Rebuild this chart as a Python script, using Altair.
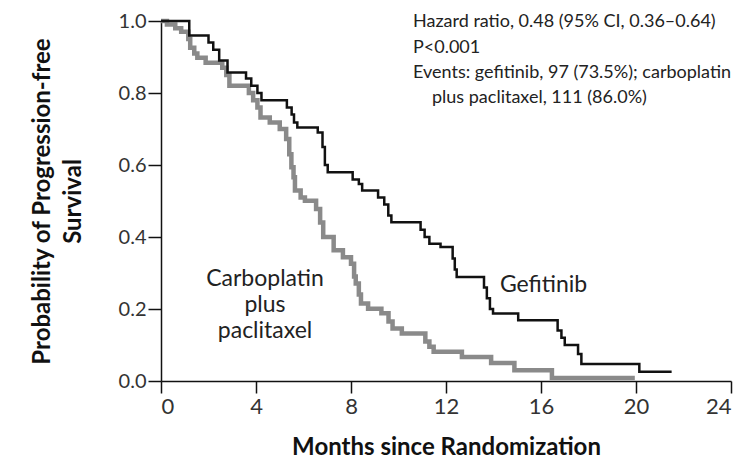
import altair as alt
import pandas as pd

# Gefitinib (black) Kaplan-Meier steps: month, survival probability
gef_months = [0, 1.19, 2.0, 2.2, 2.45, 2.8, 3.58, 3.8, 4.06, 4.23, 5.3, 5.5, 5.6, 5.74,
              6.6, 6.8, 6.9, 7.02, 8.07, 8.33, 8.47, 9.14, 9.4, 9.57, 9.7, 10.93, 11.1,
              11.3, 11.77, 12.28, 12.37, 12.45, 13.6, 13.72, 13.85, 13.98, 15.04, 16.7,
              16.86, 17.0, 17.56, 17.7, 20.14, 21.5]
gef_surv = [1.0, 0.96, 0.94, 0.92, 0.89, 0.857, 0.84, 0.82, 0.80, 0.78, 0.76, 0.74, 0.718,
            0.704, 0.69, 0.65, 0.60, 0.58, 0.56, 0.547, 0.529, 0.51, 0.49, 0.46, 0.441,
            0.42, 0.40, 0.381, 0.372, 0.34, 0.31, 0.289, 0.26, 0.23, 0.20, 0.1875, 0.169,
            0.14, 0.12, 0.10, 0.075, 0.047, 0.026, 0.026]

# Carboplatin plus paclitaxel (gray)
carbo_months = [0, 0.25, 0.6, 0.85, 1.15, 1.23, 1.4, 1.53, 1.88, 2.58, 2.75, 2.88, 3.7, 3.88,
                4.06, 4.19, 4.58, 5.0, 5.27, 5.4, 5.49, 5.58, 5.64, 5.88, 6.06, 6.53, 6.7,
                6.83, 7.27, 7.66, 8.0, 8.13, 8.2, 8.33, 8.42, 8.72, 9.28, 9.58, 9.75, 10.14,
                11.13, 11.3, 11.48, 12.67, 13.9, 14.88, 16.46, 19.95]
carbo_surv = [1.0, 0.99, 0.98, 0.97, 0.95, 0.926, 0.91, 0.898, 0.884, 0.87, 0.85, 0.82, 0.80,
              0.78, 0.76, 0.732, 0.718, 0.70, 0.672, 0.63, 0.594, 0.566, 0.529, 0.51, 0.501,
              0.478, 0.44, 0.40, 0.363, 0.344, 0.326, 0.29, 0.271, 0.24, 0.215, 0.201, 0.188,
              0.165, 0.146, 0.132, 0.11, 0.095, 0.081, 0.067, 0.05, 0.03, 0.008, 0.008]

x_ticks = [0, 4, 8, 12, 16, 20, 24]
y_ticks = [0.0, 0.2, 0.4, 0.6, 0.8, 1.0]

stats_lines = ["Hazard ratio, 0.48 (95% CI, 0.36\u20130.64)", "P<0.001",
               "Events: gefitinib, 97 (73.5%); carboplatin", "plus paclitaxel, 111 (86.0%)"]
stats_x = [10.61, 10.61, 10.61, 11.41]
stats_y = [0.998, 0.926, 0.855, 0.786]

carbo_label = ["Carboplatin", "plus", "paclitaxel"]
carbo_label_x = [4.38, 4.38, 4.38]
carbo_label_y = [0.283, 0.211, 0.139]

gef_label = ["Gefitinib"]
gef_label_x = [14.27]
gef_label_y = [0.266]

FONT = "Lato"

xscale = alt.Scale(domain=[0, 24], nice=False, zero=False)
yscale = alt.Scale(domain=[0, 1], nice=False)

xaxis = alt.Axis(values=x_ticks, format="d", grid=False, tickSize=12, tickWidth=1.5,
                 domainWidth=1.5, domainColor="#111", tickColor="#111",
                 labelFont=FONT, labelFontSize=22, labelColor="#333", labelPadding=3,
                 title="Months since Randomization", titleFont=FONT, titleFontSize=24,
                 titleFontWeight="bold", titleColor="#111", titlePadding=18)
yaxis = alt.Axis(values=y_ticks, format=".1f", grid=False, tickSize=13, tickWidth=1.5,
                 domainWidth=1.5, domainColor="#111", tickColor="#111",
                 labelFont=FONT, labelFontSize=20, labelColor="#333", labelPadding=2,
                 title=["Probability of Progression-free", "Survival"], titleFont=FONT,
                 titleFontSize=24, titleFontWeight="bold", titleColor="#111",
                 titleLineHeight=31, titlePadding=33)

carbo_df = pd.DataFrame({"month": carbo_months, "surv": carbo_surv})
gef_df = pd.DataFrame({"month": gef_months, "surv": gef_surv})

carbo_line = alt.Chart(carbo_df).mark_line(
    interpolate="step-after", color="#8a8a8a", strokeWidth=4.5
).encode(
    x=alt.X("month:Q", scale=xscale, axis=xaxis),
    y=alt.Y("surv:Q", scale=yscale, axis=yaxis),
)

gef_line = alt.Chart(gef_df).mark_line(
    interpolate="step-after", color="#111111", strokeWidth=2.5
).encode(
    x=alt.X("month:Q", scale=xscale),
    y=alt.Y("surv:Q", scale=yscale),
)

stats_df = pd.DataFrame({"t": stats_lines, "x": stats_x, "y": stats_y})
stats_text = alt.Chart(stats_df).mark_text(
    align="left", baseline="middle", font=FONT, fontSize=18, color="#222"
).encode(x=alt.X("x:Q", scale=xscale), y=alt.Y("y:Q", scale=yscale), text="t:N")

cl_df = pd.DataFrame({"t": carbo_label, "x": carbo_label_x, "y": carbo_label_y})
cl_text = alt.Chart(cl_df).mark_text(
    align="center", baseline="middle", font=FONT, fontSize=23, color="#222"
).encode(x=alt.X("x:Q", scale=xscale), y=alt.Y("y:Q", scale=yscale), text="t:N")

gl_df = pd.DataFrame({"t": gef_label, "x": gef_label_x, "y": gef_label_y})
gl_text = alt.Chart(gl_df).mark_text(
    align="left", baseline="middle", font=FONT, fontSize=23, color="#222"
).encode(x=alt.X("x:Q", scale=xscale), y=alt.Y("y:Q", scale=yscale), text="t:N")

chart = alt.layer(carbo_line, gef_line, stats_text, cl_text, gl_text).properties(
    width=570, height=360,
    autosize=alt.AutoSizeParams(type="none"),
    padding={"left": 153, "top": 13, "right": 12, "bottom": 79},
    background="white",
).configure_view(stroke=None)

chart.save("out.html", embed_options={"renderer": "svg", "actions": False})
